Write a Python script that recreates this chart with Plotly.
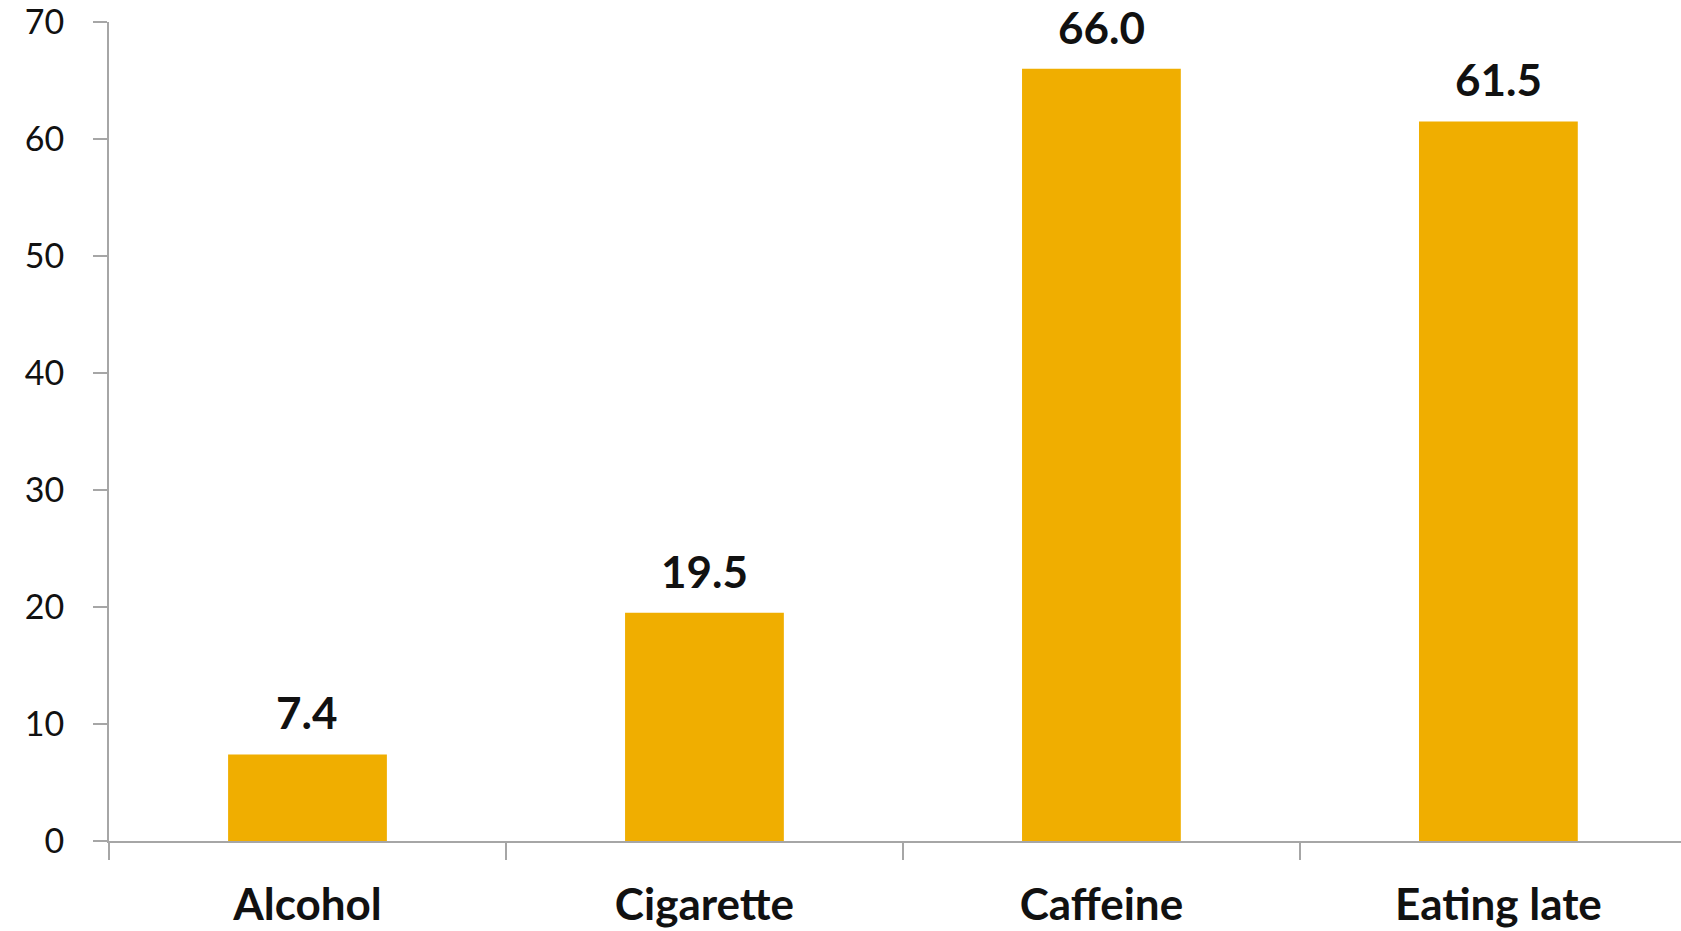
import plotly.graph_objects as go

# Share of respondents (%) by late-evening habit
categories = ["Alcohol", "Cigarette", "Caffeine", "Eating late"]
values = [7.4, 19.5, 66.0, 61.5]
value_labels = ["7.4", "19.5", "66.0", "61.5"]
y_ticks = [0, 10, 20, 30, 40, 50, 60, 70]

BAR_COLOR = "#F0AE00"
AXIS_COLOR = "#A6A6A6"
FONT = "Lato"

fig = go.Figure(
    go.Bar(
        x=categories,
        y=values,
        width=0.4,
        marker=dict(color=BAR_COLOR, line=dict(width=0)),
        hoverinfo="x+y",
    )
)

# value labels placed above each bar
for cat, val, lab in zip(categories, values, value_labels):
    fig.add_annotation(
        x=cat, y=val, text=lab, showarrow=False,
        yanchor="bottom", yshift=14,
        font=dict(family=FONT, size=44, color="#111111", weight="bold"),
    )

fig.update_layout(
    width=1681, height=931,
    margin=dict(l=109, r=0, t=20, b=90),
    paper_bgcolor="white", plot_bgcolor="white",
    showlegend=False,
    font=dict(family=FONT, color="#111111"),
)

fig.update_xaxes(
    type="category",
    range=[-0.5, 3.46],
    showline=True, linecolor=AXIS_COLOR, linewidth=2,
    ticks="outside", ticklen=17, tickwidth=2, tickcolor=AXIS_COLOR,
    tickson="boundaries",
    showgrid=False, zeroline=False,
    tickfont=dict(family=FONT, size=44, color="#111111", weight="bold"),
    ticklabelstandoff=24,
)

fig.update_yaxes(
    range=[0, 70.001],
    tickvals=y_ticks,
    showline=True, linecolor=AXIS_COLOR, linewidth=2,
    ticks="outside", ticklen=14, tickwidth=2, tickcolor=AXIS_COLOR,
    showgrid=False, zeroline=False,
    tickfont=dict(family=FONT, size=34, color="#111111"),
    ticklabelstandoff=22,
    ticklabeloverflow="allow",
)

fig.write_html("out.html")
